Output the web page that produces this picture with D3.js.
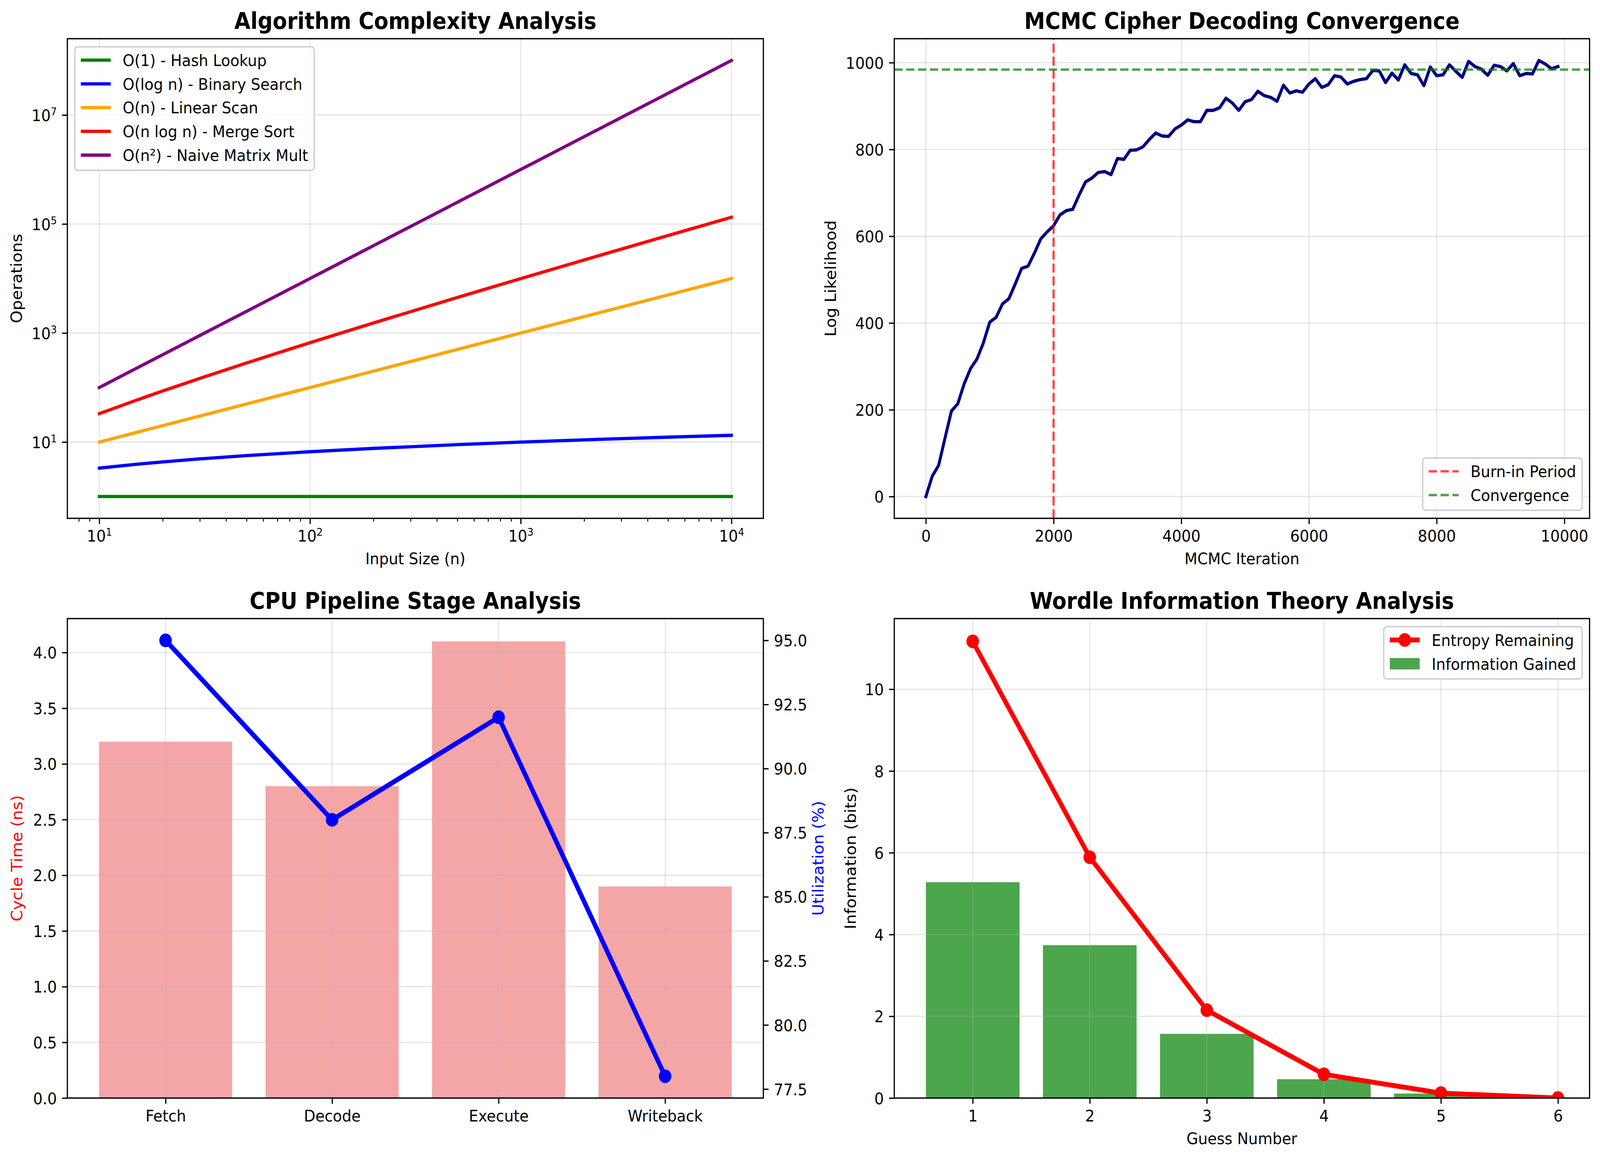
<!DOCTYPE html>
<html>
<head>
<meta charset="utf-8">
<script src="https://cdn.jsdelivr.net/npm/d3@7"></script>
<style>
  html, body { margin: 0; padding: 0; background: #fff; overflow: hidden; }
  svg { display: block; width: 100vw; height: 100vh; }
  text { font-family: "DejaVu Sans", sans-serif; }
</style>
</head>
<body>
<div id="chart"></div>
<script>
// ---- data: algorithm complexity (log-log) ----
var inputSizes   = [10, 15, 20, 30, 50, 100, 200, 500, 1000, 2000, 5000, 10000];
var opsConstant  = [1, 1, 1, 1, 1, 1, 1, 1, 1, 1, 1, 1];
var opsLog       = [3.32, 3.91, 4.32, 4.91, 5.64, 6.64, 7.64, 8.97, 9.97, 10.97, 12.29, 13.29];
var opsLinear    = [10, 15, 20, 30, 50, 100, 200, 500, 1000, 2000, 5000, 10000];
var opsNLogN     = [33.2, 58.6, 86.4, 147.2, 282.2, 664.4, 1528.8, 4482.9, 9965.8, 21931.6, 61438.6, 132877];
var opsQuadratic = [100, 225, 400, 900, 2500, 10000, 40000, 250000, 1000000, 4000000, 25000000, 100000000];
var complexityNames = ["O(1) - Hash Lookup", "O(log n) - Binary Search", "O(n) - Linear Scan",
                       "O(n log n) - Merge Sort", "O(n\u00b2) - Naive Matrix Mult"];
var complexityXTicks = [10, 100, 1000, 10000];
var complexityYTicks = [10, 1000, 100000, 10000000];

// ---- data: MCMC convergence ----
var mcmcIterations = [0, 100, 200, 300, 400, 500, 600, 700, 800, 900,
  1000, 1100, 1200, 1300, 1400, 1500, 1600, 1700, 1800, 1900,
  2000, 2100, 2200, 2300, 2400, 2500, 2600, 2700, 2800, 2900,
  3000, 3100, 3200, 3300, 3400, 3500, 3600, 3700, 3800, 3900,
  4000, 4100, 4200, 4300, 4400, 4500, 4600, 4700, 4800, 4900,
  5000, 5100, 5200, 5300, 5400, 5500, 5600, 5700, 5800, 5900,
  6000, 6100, 6200, 6300, 6400, 6500, 6600, 6700, 6800, 6900,
  7000, 7100, 7200, 7300, 7400, 7500, 7600, 7700, 7800, 7900,
  8000, 8100, 8200, 8300, 8400, 8500, 8600, 8700, 8800, 8900,
  9000, 9100, 9200, 9300, 9400, 9500, 9600, 9700, 9800, 9900];
var logLikelihood = [0, 47, 72, 135, 197, 214, 260, 295, 317, 354,
  402, 413, 444, 456, 490, 526, 531, 561, 594, 610,
  624, 649, 659, 662, 695, 725, 734, 747, 749, 742,
  779, 777, 798, 799, 806, 823, 838, 831, 830, 847,
  856, 868, 864, 864, 890, 890, 896, 918, 907, 890,
  910, 915, 934, 924, 920, 911, 948, 930, 935, 932,
  951, 963, 943, 949, 970, 967, 951, 957, 961, 963,
  982, 981, 954, 976, 960, 995, 975, 972, 947, 990,
  970, 972, 995, 980, 966, 1003, 991, 985, 971, 994,
  991, 981, 998, 970, 975, 974, 1005, 997, 986, 991];
var burnInIteration = 2000;
var convergenceLevel = 984;
var mcmcXTicks = [0, 2000, 4000, 6000, 8000, 10000];
var mcmcYTicks = [0, 200, 400, 600, 800, 1000];

// ---- data: CPU pipeline ----
var stages = ["Fetch", "Decode", "Execute", "Writeback"];
var cycleTimes = [3.2, 2.8, 4.1, 1.9];
var utilization = [95, 88, 92, 78];
var cycleTicks = [0, 0.5, 1.0, 1.5, 2.0, 2.5, 3.0, 3.5, 4.0];
var utilTicks = [77.5, 80.0, 82.5, 85.0, 87.5, 90.0, 92.5, 95.0];

// ---- data: Wordle information ----
var guesses = [1, 2, 3, 4, 5, 6];
var entropyRemaining = [11.17, 5.89, 2.15, 0.58, 0.12, 0.0];
var gainGuesses = [1, 2, 3, 4, 5];
var infoGained = [5.28, 3.74, 1.57, 0.46, 0.11];
var bitsTicks = [0, 2, 4, 6, 8, 10];

// ---- layout ----
var W = 4455, H = 2966;
var FS = 41.67, TITLE_FS = 58.33;
var LW = 3.33, TICK = 14.58, MINOR = 8.33;
var GRID = "#b0b0b0";

var boxes = {
  tl: {x0: 187.5, x1: 2125.5, y0: 99, y1: 1326.5},
  tr: {x0: 2490, x1: 4426, y0: 99, y1: 1326.5},
  bl: {x0: 187.5, x1: 2125.5, y0: 1583, y1: 2810},
  br: {x0: 2490, x1: 4426, y0: 1583, y1: 2810}
};

// the drawing fills the whole window whatever its exact size
var svg = d3.select("#chart").append("svg")
  .attr("viewBox", "0 0 " + W + " " + H)
  .attr("preserveAspectRatio", "none");
svg.append("rect").attr("width", W).attr("height", H).attr("fill", "#fff");
var defs = svg.append("defs");

function makeClip(name, b) {
  defs.append("clipPath").attr("id", name)
    .append("rect").attr("x", b.x0).attr("y", b.y0)
    .attr("width", b.x1 - b.x0).attr("height", b.y1 - b.y0);
  return "url(#" + name + ")";
}

function styleAxis(g) {
  g.attr("font-size", FS).attr("font-family", "DejaVu Sans");
  g.select(".domain").remove();
  g.selectAll(".tick line").attr("stroke", "#000").attr("stroke-width", LW);
  g.selectAll(".tick text").attr("fill", "#000");
}

function gridX(g, scale, values, b) {
  g.append("g").selectAll("line").data(values).join("line")
    .attr("x1", d => scale(d)).attr("x2", d => scale(d))
    .attr("y1", b.y0).attr("y2", b.y1)
    .attr("stroke", GRID).attr("stroke-opacity", 0.3).attr("stroke-width", LW);
}
function gridY(g, scale, values, b) {
  g.append("g").selectAll("line").data(values).join("line")
    .attr("y1", d => scale(d)).attr("y2", d => scale(d))
    .attr("x1", b.x0).attr("x2", b.x1)
    .attr("stroke", GRID).attr("stroke-opacity", 0.3).attr("stroke-width", LW);
}

function spines(b) {
  svg.append("rect").attr("x", b.x0).attr("y", b.y0)
    .attr("width", b.x1 - b.x0).attr("height", b.y1 - b.y0)
    .attr("fill", "none").attr("stroke", "#000").attr("stroke-width", LW);
}

function title(b, txt) {
  svg.append("text").attr("x", (b.x0 + b.x1) / 2).attr("y", b.y0 - 25)
    .attr("text-anchor", "middle").attr("font-size", TITLE_FS)
    .attr("font-weight", "bold").text(txt);
}
function xLabel(b, txt) {
  svg.append("text").attr("x", (b.x0 + b.x1) / 2).attr("y", b.y1 + 118)
    .attr("text-anchor", "middle").attr("font-size", FS).text(txt);
}
function yLabel(x, b, txt, color) {
  svg.append("text")
    .attr("transform", "translate(" + x + "," + ((b.y0 + b.y1) / 2) + ") rotate(-90)")
    .attr("text-anchor", "middle").attr("font-size", FS)
    .attr("fill", color || "#000").text(txt);
}

function powerLabels(g) {
  g.selectAll(".tick text").each(function(d) {
    var t = d3.select(this).text(null);
    t.append("tspan").text("10");
    t.append("tspan").attr("font-size", 27).attr("dy", -15)
      .text(Math.round(Math.log10(d)));
  });
}

// legend: items {label, kind, color, opacity, width, dash}
function legend(items, b, corner) {
  var g = svg.append("g");
  var rowH = 60.8, padV = 36.4;
  var boxH = 2 * padV + (items.length - 1) * rowH;
  var frame = g.append("rect");
  var texts = g.selectAll("text.lab").data(items).join("text")
    .attr("font-size", FS).text(d => d.label);
  var maxW = 0;
  texts.each(function() { maxW = Math.max(maxW, this.getComputedTextLength()); });
  var boxW = 133.3 + maxW + 16.7;
  var left = corner === "ul" ? b.x0 + 20.8 : b.x1 - 20.8 - boxW;
  var top = corner === "lr" ? b.y1 - 20.8 - boxH : b.y0 + 20.8;
  frame.attr("x", left).attr("y", top).attr("width", boxW).attr("height", boxH)
    .attr("rx", 8).attr("fill", "#fff").attr("fill-opacity", 0.8)
    .attr("stroke", "#cccccc").attr("stroke-width", 3.5);
  items.forEach(function(d, i) {
    var cy = top + 34 + i * rowH;
    var hx0 = left + 16.7, hx1 = hx0 + 83.3;
    if (d.kind === "patch") {
      g.append("rect").attr("x", hx0).attr("y", cy - 14.6)
        .attr("width", 83.3).attr("height", 29.2)
        .attr("fill", d.color).attr("fill-opacity", d.opacity);
    } else {
      g.append("line").attr("x1", hx0).attr("x2", hx1).attr("y1", cy).attr("y2", cy)
        .attr("stroke", d.color).attr("stroke-width", d.width)
        .attr("stroke-opacity", d.opacity)
        .attr("stroke-dasharray", d.dash || null);
      if (d.kind === "marker") {
        g.append("circle").attr("cx", (hx0 + hx1) / 2).attr("cy", cy)
          .attr("r", 17.5).attr("fill", d.color);
      }
    }
  });
  texts.attr("x", left + 133.3).attr("y", (d, i) => top + 34 + i * rowH + 15);
}

// ================= Panel 1: Algorithm complexity =================
(function() {
  var b = boxes.tl;
  var x = d3.scaleLog().domain([Math.pow(10, 0.8485), Math.pow(10, 4.1515)]).range([b.x0, b.x1]);
  var y = d3.scaleLog().domain([Math.pow(10, -0.4), Math.pow(10, 8.4)]).range([b.y1, b.y0]);
  var g = svg.append("g");
  gridX(g, x, complexityXTicks, b);
  gridY(g, y, complexityYTicks, b);

  var series = [opsConstant, opsLog, opsLinear, opsNLogN, opsQuadratic];
  var colors = ["#008000", "#0000ff", "#ffa500", "#ff0000", "#800080"];
  var line = d3.line().x((d, i) => x(inputSizes[i])).y(d => y(d)).curve(d3.curveMonotoneX);
  var clip = makeClip("clipTL", b);
  g.append("g").attr("clip-path", clip).selectAll("path").data(series).join("path")
    .attr("d", line).attr("fill", "none")
    .attr("stroke", (d, i) => colors[i]).attr("stroke-width", 8.33)
    .attr("stroke-linejoin", "round").attr("stroke-linecap", "square");

  var minorTicks = [];
  [1, 10, 100, 1000].forEach(function(dec) {
    [2, 3, 4, 5, 6, 7, 8, 9].forEach(function(m) {
      var v = dec * m;
      if (v > x.domain()[0] && v < x.domain()[1]) minorTicks.push(v);
    });
  });
  var axMinor = svg.append("g").attr("transform", "translate(0," + b.y1 + ")")
    .call(d3.axisBottom(x).tickValues(minorTicks).tickSize(MINOR).tickFormat(""));
  styleAxis(axMinor);
  axMinor.selectAll(".tick line").attr("stroke-width", 2.5);

  var ax = svg.append("g").attr("transform", "translate(0," + b.y1 + ")")
    .call(d3.axisBottom(x).tickValues(complexityXTicks).tickSize(TICK).tickPadding(15.8));
  styleAxis(ax); powerLabels(ax);
  var ay = svg.append("g").attr("transform", "translate(" + b.x0 + ",0)")
    .call(d3.axisLeft(y).tickValues(complexityYTicks).tickSize(TICK).tickPadding(14.6));
  styleAxis(ay); powerLabels(ay);
  ay.selectAll(".tick text").attr("dy", "0.36em");

  spines(b);
  title(b, "Algorithm Complexity Analysis");
  xLabel(b, "Input Size (n)");
  yLabel(61, b, "Operations");
  legend(complexityNames.map((n, i) => ({label: n, kind: "line", color: colors[i], opacity: 1, width: 8.33})), b, "ul");
})();

// ================= Panel 2: MCMC =================
(function() {
  var b = boxes.tr;
  var x = d3.scaleLinear().domain([-495, 10395]).range([b.x0, b.x1]);
  var y = d3.scaleLinear().domain([-50.25, 1055.25]).range([b.y1, b.y0]);
  var g = svg.append("g");
  gridX(g, x, mcmcXTicks, b);
  gridY(g, y, mcmcYTicks, b);
  var clip = makeClip("clipTR", b);
  var pg = g.append("g").attr("clip-path", clip);

  pg.append("path").datum(logLikelihood)
    .attr("d", d3.line().x((d, i) => x(mcmcIterations[i])).y(d => y(d)))
    .attr("fill", "none").attr("stroke", "#000080").attr("stroke-width", 8.33)
    .attr("stroke-linejoin", "round").attr("stroke-linecap", "square");
  pg.append("line").attr("x1", x(burnInIteration)).attr("x2", x(burnInIteration))
    .attr("y1", b.y1).attr("y2", b.y0)
    .attr("stroke", "#ff0000").attr("stroke-opacity", 0.7).attr("stroke-width", 6.25)
    .attr("stroke-dasharray", "23.1,10");
  pg.append("line").attr("x1", b.x0).attr("x2", b.x1)
    .attr("y1", y(convergenceLevel)).attr("y2", y(convergenceLevel))
    .attr("stroke", "#008000").attr("stroke-opacity", 0.7).attr("stroke-width", 6.25)
    .attr("stroke-dasharray", "23.1,10");

  var ax = svg.append("g").attr("transform", "translate(0," + b.y1 + ")")
    .call(d3.axisBottom(x).tickValues(mcmcXTicks).tickSize(TICK).tickPadding(15.8).tickFormat(d3.format("d")));
  styleAxis(ax);
  var ay = svg.append("g").attr("transform", "translate(" + b.x0 + ",0)")
    .call(d3.axisLeft(y).tickValues(mcmcYTicks).tickSize(TICK).tickPadding(14.6).tickFormat(d3.format("d")));
  styleAxis(ay);
  ay.selectAll(".tick text").attr("dy", "0.36em");

  spines(b);
  title(b, "MCMC Cipher Decoding Convergence");
  xLabel(b, "MCMC Iteration");
  yLabel(2328, b, "Log Likelihood");
  legend([
    {label: "Burn-in Period", kind: "line", color: "#ff0000", opacity: 0.7, width: 6.25, dash: "23.1,10"},
    {label: "Convergence", kind: "line", color: "#008000", opacity: 0.7, width: 6.25, dash: "23.1,10"}
  ], b, "lr");
})();

// ================= Panel 3: CPU pipeline =================
(function() {
  var b = boxes.bl;
  var x = d3.scaleLinear().domain([-0.59, 3.59]).range([b.x0, b.x1]);
  var y = d3.scaleLinear().domain([0, 4.305]).range([b.y1, b.y0]);
  var y2 = d3.scaleLinear().domain([77.15, 95.85]).range([b.y1, b.y0]);
  var idx = stages.map((s, i) => i);
  var g = svg.append("g");

  g.selectAll("rect.bar").data(cycleTimes).join("rect")
    .attr("x", (d, i) => x(i - 0.4)).attr("width", x(0.4) - x(-0.4))
    .attr("y", d => y(d)).attr("height", d => y(0) - y(d))
    .attr("fill", "#f08080").attr("fill-opacity", 0.7);
  gridX(g, x, idx, b);
  gridY(g, y, cycleTicks, b);

  var ax = svg.append("g").attr("transform", "translate(0," + b.y1 + ")")
    .call(d3.axisBottom(x).tickValues(idx).tickSize(TICK).tickPadding(15.8).tickFormat(i => stages[i]));
  styleAxis(ax);
  var ay = svg.append("g").attr("transform", "translate(" + b.x0 + ",0)")
    .call(d3.axisLeft(y).tickValues(cycleTicks).tickSize(TICK).tickPadding(14.6).tickFormat(d3.format(".1f")));
  styleAxis(ay);
  ay.selectAll(".tick text").attr("dy", "0.36em");
  spines(b);

  var clip = makeClip("clipBL", b);
  var pg = svg.append("g").attr("clip-path", clip);
  pg.append("path").datum(utilization)
    .attr("d", d3.line().x((d, i) => x(i)).y(d => y2(d)))
    .attr("fill", "none").attr("stroke", "#0000ff").attr("stroke-width", 12.5)
    .attr("stroke-linejoin", "round").attr("stroke-linecap", "square");
  pg.selectAll("circle").data(utilization).join("circle")
    .attr("cx", (d, i) => x(i)).attr("cy", d => y2(d)).attr("r", 17.5)
    .attr("fill", "#0000ff");

  var ay2 = svg.append("g").attr("transform", "translate(" + b.x1 + ",0)")
    .call(d3.axisRight(y2).tickValues(utilTicks).tickSize(TICK).tickPadding(14.6).tickFormat(d3.format(".1f")));
  styleAxis(ay2);
  ay2.selectAll(".tick text").attr("dy", "0.36em");

  title(b, "CPU Pipeline Stage Analysis");
  yLabel(62, b, "Cycle Time (ns)", "#ff0000");
  yLabel(2293, b, "Utilization (%)", "#0000ff");
})();

// ================= Panel 4: Wordle =================
(function() {
  var b = boxes.br;
  var x = d3.scaleLinear().domain([0.33, 6.27]).range([b.x0, b.x1]);
  var y = d3.scaleLinear().domain([0, 11.7285]).range([b.y1, b.y0]);
  var g = svg.append("g");

  g.selectAll("rect.bar").data(infoGained).join("rect")
    .attr("x", (d, i) => x(gainGuesses[i] - 0.4)).attr("width", x(0.8) - x(0))
    .attr("y", d => y(d)).attr("height", d => y(0) - y(d))
    .attr("fill", "#008000").attr("fill-opacity", 0.7);
  gridX(g, x, guesses, b);
  gridY(g, y, bitsTicks, b);

  var clip = makeClip("clipBR", b);
  var pg = g.append("g").attr("clip-path", clip);
  pg.append("path").datum(entropyRemaining)
    .attr("d", d3.line().x((d, i) => x(guesses[i])).y(d => y(d)))
    .attr("fill", "none").attr("stroke", "#ff0000").attr("stroke-width", 12.5)
    .attr("stroke-linejoin", "round").attr("stroke-linecap", "square");
  pg.selectAll("circle").data(entropyRemaining).join("circle")
    .attr("cx", (d, i) => x(guesses[i])).attr("cy", d => y(d)).attr("r", 17.5)
    .attr("fill", "#ff0000");

  var ax = svg.append("g").attr("transform", "translate(0," + b.y1 + ")")
    .call(d3.axisBottom(x).tickValues(guesses).tickSize(TICK).tickPadding(15.8).tickFormat(d3.format("d")));
  styleAxis(ax);
  var ay = svg.append("g").attr("transform", "translate(" + b.x0 + ",0)")
    .call(d3.axisLeft(y).tickValues(bitsTicks).tickSize(TICK).tickPadding(14.6).tickFormat(d3.format("d")));
  styleAxis(ay);
  ay.selectAll(".tick text").attr("dy", "0.36em");

  spines(b);
  title(b, "Wordle Information Theory Analysis");
  xLabel(b, "Guess Number");
  yLabel(2383, b, "Information (bits)");
  legend([
    {label: "Entropy Remaining", kind: "marker", color: "#ff0000", opacity: 1, width: 12.5},
    {label: "Information Gained", kind: "patch", color: "#008000", opacity: 0.7}
  ], b, "ur");
})();
</script>
</body>
</html>
